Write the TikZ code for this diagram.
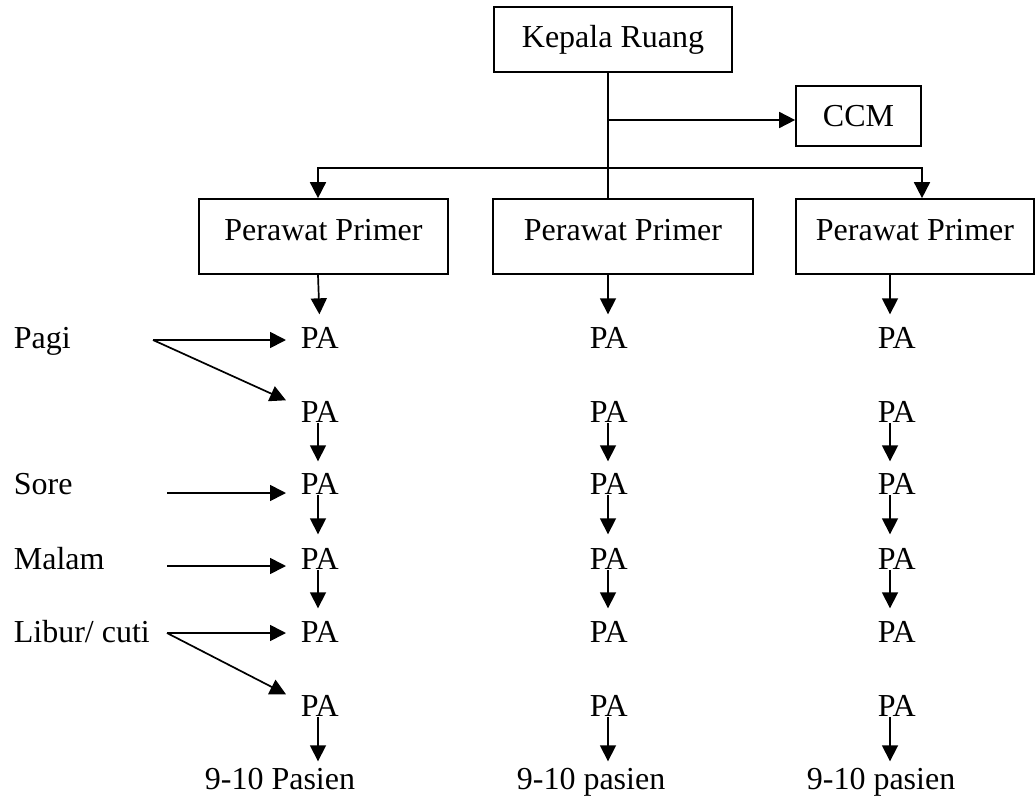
\documentclass[tikz,border=0pt]{standalone}
\usepackage{fontspec}
\setmainfont{Liberation Serif}
\usetikzlibrary{arrows.meta}
\begin{document}
\begin{tikzpicture}[x=1pt,y=-1pt,line width=1.7pt,
  txt/.style={font=\fontsize{32}{38}\selectfont},
  arr/.style={-{Triangle[length=16pt,width=16pt]}},
  lbl/.style={txt,inner sep=0pt,text height=21pt,text depth=0pt,anchor=south west},
  box/.style={txt,draw,inner sep=0pt},
  ppbox/.style={txt,draw,inner sep=0pt,text height=41pt,text depth=34pt,anchor=base}]
\useasboundingbox (0,0) rectangle (1036,798);

% boxes
\node[box,minimum width=238pt,minimum height=65pt] (kr) at (613,39.5) {Kepala Ruang};
\node[box,minimum width=125pt,minimum height=60pt] (ccm) at (858.5,116) {CCM};
\node[ppbox,minimum width=249pt] (pp1) at (323.5,240) {Perawat Primer};
\node[ppbox,minimum width=260pt] (pp2) at (623,240) {Perawat Primer};
\node[ppbox,minimum width=238pt] (pp3) at (915,240) {Perawat Primer};

% PA rows
\foreach \r/\y in {1/349,2/423,3/495,4/570,5/643,6/717}{
  \node[lbl] (l\r) at (300,\y) {PA};
  \node[lbl] (m\r) at (589,\y) {PA};
  \node[lbl] (r\r) at (877,\y) {PA};
}
\node[lbl] (l7) at (204,790) {9-10 Pasien};
\node[lbl] (m7) at (516,790) {9-10 pasien};
\node[lbl] (r7) at (806,790) {9-10 pasien};

% shift labels
\node[lbl] (pagi) at (13,349) {Pagi};
\node[lbl] (sore) at (13,495) {Sore};
\node[lbl] (malam) at (13,570) {Malam};
\node[lbl] (libur) at (13,643) {Libur/ cuti};

% guide coordinates
\coordinate (trunk) at (608,0);
\coordinate (bus) at (608,168);
\coordinate (cL) at (318,0);
\coordinate (cR) at (890,0);
\coordinate (busR) at (922,0);
\coordinate (ccmIn) at ([yshift=-4pt]ccm.west);
\coordinate (pagiOut) at (153,340);
\coordinate (soreOut) at (167,493);
\coordinate (malamOut) at (167,566);
\coordinate (liburOut) at (167,633);

% hierarchy lines
\draw (trunk |- kr.south) -- (trunk |- pp2.north);
\draw[arr] (trunk |- ccmIn) -- (ccmIn);
\draw[arr] (bus) -| (cL |- pp1.north);
\draw[arr] (bus) -| (busR |- pp3.north);

% primary nurse to first PA
\draw[arr,shorten >=12pt] (cL |- pp1.south) -- (l1.north);
\draw[arr,shorten >=12pt] (trunk |- pp2.south) -- (trunk |- m1.north);
\draw[arr,shorten >=12pt] (cR |- pp3.south) -- (cR |- r1.north);

% column chains
\foreach \c/\x in {l/cL,m/trunk,r/cR}{
  \draw[arr,shorten >=11pt] (\x |- \c2.south) -- (\x |- \c3.north);
  \draw[arr,shorten >=13pt] (\x |- \c3.south) -- (\x |- \c4.north);
  \draw[arr,shorten >=12pt] (\x |- \c4.south) -- (\x |- \c5.north);
  \draw[arr,shorten >=6pt] (\x |- \c6.south) -- (\x |- \c7.north);
}

% shift arrows
\draw[arr,shorten >=14pt] (pagiOut) -- (pagiOut -| l1.west);
\draw[arr] (pagiOut) -- ([xshift=-14pt]l2.north west);
\draw[arr,shorten >=14pt] (soreOut) -- (soreOut -| l3.west);
\draw[arr,shorten >=14pt] (malamOut) -- (malamOut -| l4.west);
\draw[arr,shorten >=14pt] (liburOut) -- (liburOut -| l5.west);
\draw[arr] (liburOut) -- ([xshift=-14pt]l6.north west);
\end{tikzpicture}
\end{document}
